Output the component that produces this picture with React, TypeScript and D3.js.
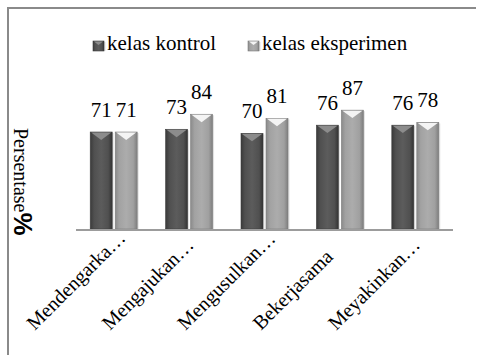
import React from "react";
import * as d3 from "d3";

const categories = ["Mendengarka…", "Mengajukan…", "Mengusulkan…", "Bekerjasama", "Meyakinkan…"];
const seriesNames = ["kelas kontrol", "kelas eksperimen"];
const kontrol = [71, 73, 70, 76, 76];
const eksperimen = [71, 84, 81, 87, 78];
const yTitle = "Persentase";
const yUnit = "%";

const W = 477;
const H = 355;

const serif = '"Liberation Serif", "Times New Roman", serif';
const sans = '"Liberation Sans", Arial, sans-serif';

export default function App() {
  const x = d3.scaleBand<string>().domain(categories).range([76, 453]).paddingInner(0.377).paddingOuter(0.1885);
  const xi = d3.scaleBand<string>().domain(["k", "e"]).range([0, x.bandwidth()]).paddingInner(0.12);
  const y = d3.scaleLinear().domain([0, 100]).range([229, 92.4]);

  const styles = {
    k: { grad: "gk", tri: "#8c8c8c", edge: "#3c3c3c" },
    e: { grad: "ge", tri: "#f4f4f4", edge: "#7c7c7c" },
  } as const;

  const bar = (key: "k" | "e", x0: number, w: number, top: number, bottom: number, k: string) => {
    const s = styles[key];
    const tH = Math.min(8, w * 0.36);
    return (
      <g key={k}>
        <rect x={x0 + 1.5} y={top + 1} width={w} height={bottom - top - 1} fill="#000" opacity={0.12} />
        <rect x={x0} y={top} width={w} height={bottom - top} fill={`url(#${s.grad})`} stroke={s.edge} strokeWidth={0.6} />
        <path
          d={`M${x0 + 1},${top + 0.5} L${x0 + w - 1},${top + 0.5} L${x0 + w / 2},${top + tH} Z`}
          fill={s.tri}
        />
      </g>
    );
  };

  const data = categories.map((c, i) => ({ c, k: kontrol[i], e: eksperimen[i] }));
  const txt = { fontFamily: serif, fontSize: "21px" };

  return (
    <svg width={W} height={H} style={{ position: "absolute", left: 0, top: 0, background: "#fff", fontFamily: serif }}>
      <defs>
        <linearGradient id="gk" x1="0" x2="1" y1="0" y2="0">
          <stop offset="0" stopColor="#3a3a3a" />
          <stop offset="0.18" stopColor="#505050" />
          <stop offset="0.5" stopColor="#5c5c5c" />
          <stop offset="0.82" stopColor="#505050" />
          <stop offset="1" stopColor="#333" />
        </linearGradient>
        <linearGradient id="ge" x1="0" x2="1" y1="0" y2="0">
          <stop offset="0" stopColor="#8a8a8a" />
          <stop offset="0.18" stopColor="#a2a2a2" />
          <stop offset="0.5" stopColor="#acacac" />
          <stop offset="0.82" stopColor="#a0a0a0" />
          <stop offset="1" stopColor="#7e7e7e" />
        </linearGradient>
      </defs>

      {/* border */}
      <path d={`M8,${H} L8,8 L476,8`} fill="none" stroke="#8a8a8a" strokeWidth={2} />

      {/* legend */}
      {bar("k", 93, 11, 41, 51, "lk")}
      <text x={107} y={50} style={txt}>{seriesNames[0]}</text>
      {bar("e", 248, 11, 41, 51, "le")}
      <text x={262} y={50} style={txt}>{seriesNames[1]}</text>

      {/* bars */}
      {data.map((d) => {
        const gx = x(d.c)!;
        const xk = gx + xi("k")!;
        const xe = gx + xi("e")!;
        const bw = xi.bandwidth();
        return (
          <g key={d.c}>
            {bar("k", xk, bw, y(d.k), y(0), d.c + "k")}
            {bar("e", xe, bw, y(d.e), y(0), d.c + "e")}
            <text x={xk + bw / 2} y={y(d.k) - 15} textAnchor="middle" style={txt}>{d.k}</text>
            <text x={xe + bw / 2} y={y(d.e) - 15} textAnchor="middle" style={txt}>{d.e}</text>
          </g>
        );
      })}

      {/* axis baseline */}
      <line x1={76} x2={453} y1={y(0) + 1} y2={y(0) + 1} stroke="#9c9c9c" strokeWidth={2} />

      {/* category labels */}
      {categories.map((c) => {
        const cx = x(c)! + x.bandwidth() / 2;
        const ax = cx - 79;
        const ay = 331;
        return (
          <text key={c} x={ax} y={ay} transform={`rotate(-45, ${ax}, ${ay})`} style={{ fontFamily: serif, fontSize: "20px" }}>
            {c}
          </text>
        );
      })}

      {/* y title */}
      <text x={128} y={-13.5} transform="rotate(90)" style={{ fontFamily: serif, fontSize: "20px" }}>
        {yTitle}
        <tspan style={{ fontFamily: sans, fontWeight: "bold", fontSize: "26px" }}>{yUnit}</tspan>
      </text>
    </svg>
  );
}
